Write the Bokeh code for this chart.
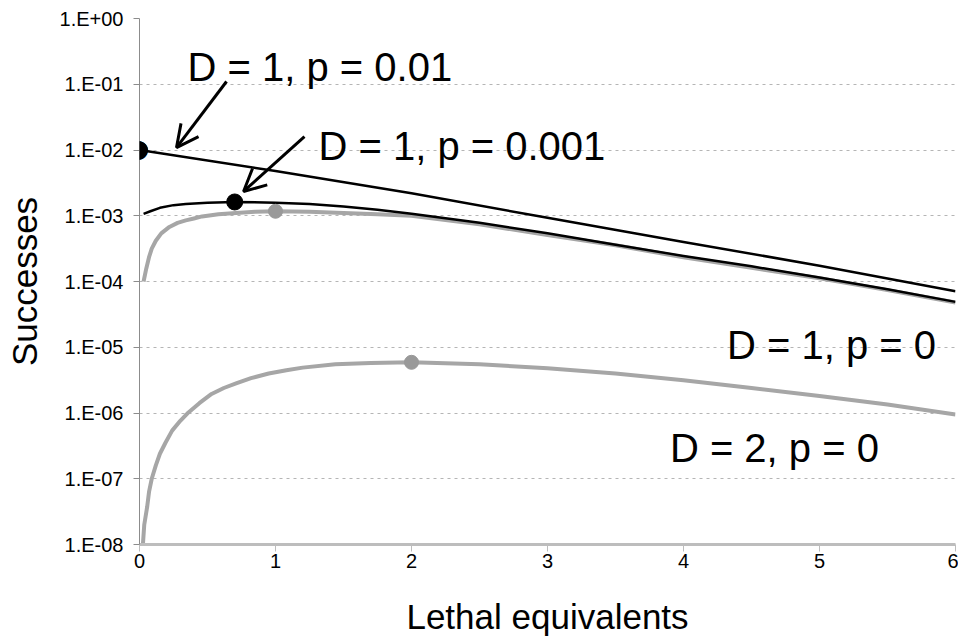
from bokeh.plotting import figure
from bokeh.models import FixedTicker, Arrow, OpenHead, Label, Range1d, CustomJSTickFormatter
from bokeh.embed import file_html
from bokeh.resources import INLINE

# ---- data ----
x_d1_p01 = [0, 1, 2, 3, 4, 5, 6]
y_d1_p01 = [1.0e-2, 4.8e-3, 2.2e-3, 9.3e-4, 4.0e-4, 1.74e-4, 7.1e-5]

x_d1_p001 = [0.03, 0.08, 0.15, 0.25, 0.34, 0.5, 0.7, 1.0, 1.25, 1.5, 1.75, 2,
             2.5, 3, 3.5, 4, 4.5, 5, 5.5, 6]
y_d1_p001 = [1.07e-3, 1.17e-3, 1.32e-3, 1.45e-3, 1.51e-3, 1.58e-3, 1.62e-3, 1.58e-3,
             1.51e-3, 1.38e-3, 1.23e-3, 1.07e-3, 7.8e-4, 5.4e-4, 3.63e-4, 2.45e-4,
             1.70e-4, 1.15e-4, 7.6e-5, 4.9e-5]

x_d1_p0 = [0.03, 0.05, 0.07, 0.09, 0.12, 0.16, 0.22, 0.28, 0.34, 0.40, 0.46, 0.58,
           0.71, 0.85, 1.0, 1.25, 1.5, 1.75, 2, 2.5, 3, 3.5, 4, 4.5, 5, 5.5, 6]
y_d1_p0 = [1.0e-4, 1.58e-4, 2.34e-4, 3.16e-4, 4.17e-4, 5.4e-4, 6.76e-4, 7.8e-4,
           8.51e-4, 9.1e-4, 9.77e-4, 1.05e-3, 1.10e-3, 1.15e-3, 1.17e-3, 1.15e-3,
           1.10e-3, 1.05e-3, 1.0e-3, 7.4e-4, 5.1e-4, 3.55e-4, 2.34e-4, 1.62e-4,
           1.12e-4, 7.4e-5, 4.8e-5]

x_d2_p0 = [0.025, 0.035, 0.056, 0.07, 0.09, 0.12, 0.15, 0.19, 0.24, 0.30, 0.36, 0.44,
           0.53, 0.62, 0.71, 0.82, 0.95, 1.08, 1.2, 1.44, 1.7, 2.0, 2.5, 3, 3.5, 4,
           4.5, 5, 5.5, 6]
y_d2_p0 = [1.0e-8, 2.0e-8, 3.7e-8, 6.3e-8, 1.0e-7, 1.6e-7, 2.4e-7, 3.5e-7, 5.4e-7,
           7.6e-7, 1.02e-6, 1.41e-6, 1.95e-6, 2.4e-6, 2.82e-6, 3.39e-6, 3.98e-6,
           4.47e-6, 4.9e-6, 5.5e-6, 5.75e-6, 5.9e-6, 5.5e-6, 4.8e-6, 3.98e-6,
           3.16e-6, 2.4e-6, 1.82e-6, 1.35e-6, 9.5e-7]

x_black_dots = [0, 0.7]
y_black_dots = [1.0e-2, 1.62e-3]
x_gray_dots = [1, 2]
y_gray_dots = [1.17e-3, 5.9e-6]

x_ticks = [0, 1, 2, 3, 4, 5, 6]
y_ticks = [1e0, 1e-1, 1e-2, 1e-3, 1e-4, 1e-5, 1e-6, 1e-7, 1e-8]

FONT = "Liberation Sans"
GRAY = "#a6a6a6"

p = figure(width=958, height=642, y_axis_type="log",
           x_range=Range1d(0, 6), y_range=Range1d(1e-8, 1),
           output_backend="svg", toolbar_location=None,
           min_border_left=139, min_border_right=3,
           min_border_top=18, min_border_bottom=98)
p.outline_line_color = None
p.background_fill_color = "white"
p.border_fill_color = "white"

# grid
p.xgrid.visible = False
p.ygrid.ticker = FixedTicker(ticks=y_ticks)
p.ygrid.grid_line_color = "#b5b5b5"
p.ygrid.grid_line_dash = "3 4"
p.ygrid.grid_line_width = 1
p.ygrid.minor_grid_line_color = None

# y axis
p.yaxis.ticker = FixedTicker(ticks=y_ticks)
p.yaxis.formatter = CustomJSTickFormatter(code="""
const e = Math.round(Math.log10(tick));
const s = e < 0 ? "-" : "+";
const a = Math.abs(e);
return "1.E" + s + (a < 10 ? "0" : "") + a;
""")
p.yaxis.axis_line_color = "#8c8c8c"
p.yaxis.major_tick_line_color = "#8c8c8c"
p.yaxis.major_tick_out = 6
p.yaxis.major_tick_in = 0
p.yaxis.minor_tick_line_color = None
p.yaxis.major_label_text_font = FONT
p.yaxis.major_label_text_font_size = "20px"
p.yaxis.major_label_text_color = "black"
p.yaxis.major_label_standoff = 10
p.yaxis.axis_label = "Successes"
p.yaxis.axis_label_text_font = FONT
p.yaxis.axis_label_text_font_size = "35px"
p.yaxis.axis_label_text_font_style = "normal"
p.yaxis.axis_label_text_color = "black"
p.yaxis.axis_label_standoff = 13

# x axis
p.xaxis.ticker = FixedTicker(ticks=x_ticks)
p.xaxis.axis_line_color = "#bdbdbd"
p.xaxis.axis_line_width = 3
p.xaxis.major_tick_line_color = "#bdbdbd"
p.xaxis.major_tick_line_width = 1
p.xaxis.major_tick_out = 7
p.xaxis.major_tick_in = 0
p.xaxis.minor_tick_line_color = None
p.xaxis.major_label_text_font = FONT
p.xaxis.major_label_text_font_size = "20px"
p.xaxis.major_label_text_color = "black"
p.xaxis.major_label_standoff = 2
p.xaxis.axis_label = "Lethal equivalents"
p.xaxis.axis_label_text_font = FONT
p.xaxis.axis_label_text_font_size = "35px"
p.xaxis.axis_label_text_font_style = "normal"
p.xaxis.axis_label_text_color = "black"
p.xaxis.axis_label_standoff = 26

# curves
p.line(x_d2_p0, y_d2_p0, line_color=GRAY, line_width=4, line_join="round")
p.line(x_d1_p0, y_d1_p0, line_color=GRAY, line_width=4, line_join="round")
p.line(x_d1_p001, y_d1_p001, line_color="black", line_width=2.5, line_join="round")
p.line(x_d1_p01, y_d1_p01, line_color="black", line_width=2.5, line_join="round")

p.scatter(x_gray_dots, y_gray_dots, size=14, fill_color="#999999", line_color="#999999")
p.scatter(x_black_dots, y_black_dots, size=16, fill_color="black", line_color="black")

# the dot sitting on the y axis is drawn unclipped as well
p.add_layout(Label(x=x_black_dots[0], y=y_black_dots[0], text="\u25cf",
                   text_font="DejaVu Sans", text_font_size="25px", text_color="black",
                   text_align="center", text_baseline="middle", x_offset=-1, y_offset=2))

# arrows
p.add_layout(Arrow(end=OpenHead(size=22, line_width=3, line_color="black"),
                   x_start=0.64, y_start=0.110, x_end=0.272, y_end=0.0109,
                   line_width=3, line_color="black"))
p.add_layout(Arrow(end=OpenHead(size=22, line_width=3, line_color="black"),
                   x_start=1.213, y_start=0.016, x_end=0.765, y_end=0.00234,
                   line_width=3, line_color="black"))

# labels
for tx, ty, txt in [(0.353, 0.18, "D = 1, p = 0.01"),
                    (1.316, 0.0117, "D = 1, p = 0.001"),
                    (4.32, 1.1e-5, "D = 1, p = 0"),
                    (3.90, 2.9e-7, "D = 2, p = 0")]:
    p.add_layout(Label(x=tx, y=ty, text=txt, text_font=FONT, text_font_size="40px",
                       text_color="black", text_baseline="alphabetic", text_align="left"))

open("out.html", "w").write(file_html(p, INLINE))
